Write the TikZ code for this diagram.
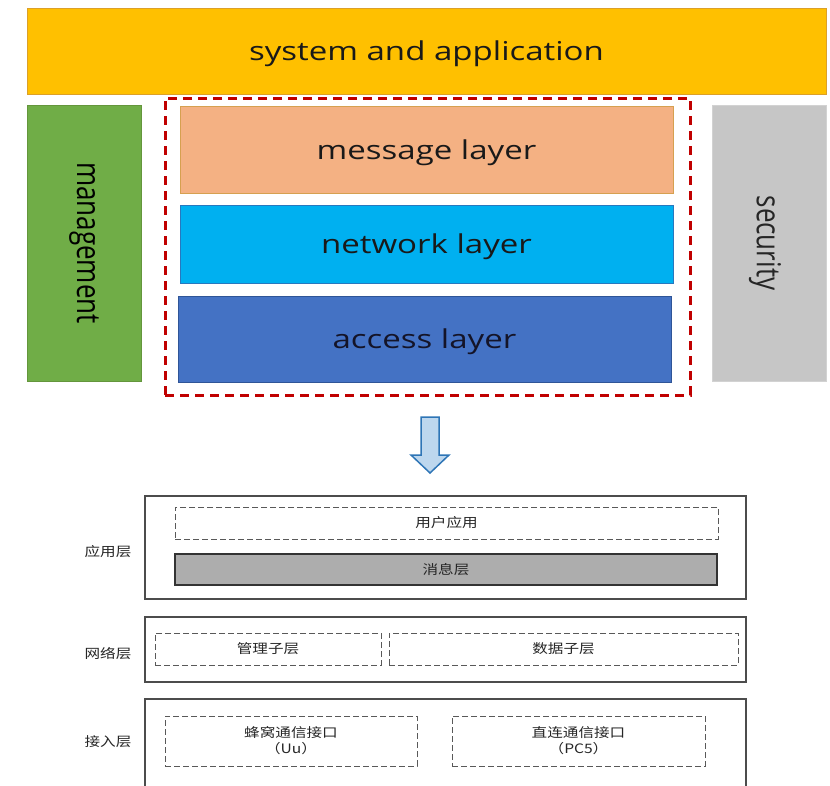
\documentclass[tikz,border=0pt]{standalone}
\usepackage{fontspec}
\usepackage{graphicx}
\setmainfont{Open Sans}
\newfontfamily\enwide[FakeStretch=1.27]{Open Sans}
\newfontfamily\cjk[FakeStretch=1.2]{Noto Sans CJK SC}
\definecolor{cYel}{RGB}{255,192,0}
\definecolor{cYelB}{RGB}{220,160,40}
\definecolor{cGrn}{RGB}{112,173,71}
\definecolor{cGrnB}{RGB}{100,150,60}
\definecolor{cGry}{RGB}{198,198,198}
\definecolor{cGryB}{RGB}{210,210,210}
\definecolor{cRed}{RGB}{192,0,0}
\definecolor{cMsg}{RGB}{244,177,131}
\definecolor{cMsgB}{RGB}{214,160,80}
\definecolor{cNet}{RGB}{0,176,240}
\definecolor{cNetB}{RGB}{40,120,190}
\definecolor{cAcc}{RGB}{68,114,196}
\definecolor{cAccB}{RGB}{47,85,151}
\definecolor{cAccT}{RGB}{20,20,40}
\definecolor{cArB}{RGB}{46,117,182}
\definecolor{cArF}{RGB}{189,215,238}
\begin{document}
\begin{tikzpicture}[x=1pt,y=-1pt,
  colbox/.style={draw=#1,line width=1pt,inner sep=0pt,text=black!90},
  entxt/.style={font=\enwide\fontsize{26}{30}\selectfont, text height=25.6pt, text depth=6pt},
  vtxt/.style={font=\fontsize{26}{30}\selectfont, rotate=-90},
  frame/.style={draw=black!70,line width=1.2pt,inner sep=0pt},
  dbox/.style={draw=black!65,line width=1pt,dash pattern=on 6pt off 3pt,inner sep=0pt,align=center,text=black!85,font=\cjk\fontsize{13}{16}\selectfont},
  side/.style={text=black!85,font=\cjk\fontsize{13}{16}\selectfont}]
\useasboundingbox (0,0) rectangle (830,785);
\clip (0,0) rectangle (830,785);
% top part
\node[colbox=cYelB, fill=cYel, minimum width=799pt, minimum height=86pt, entxt] (sys) at (426.5,51) {system and application};
\node[colbox=cGrnB, fill=cGrn, minimum width=114pt, minimum height=276pt] (mgmt) at (84,243) {};
\node[vtxt] (mgmtt) at (mgmt.center) {\scalebox{1}[1.27]{management}};
\node[colbox=cGryB, fill=cGry, minimum width=114pt, minimum height=276pt] (sec) at (769,243) {};
\node[vtxt, text=black!85] (sect) at (765,243) {\scalebox{1}[1.27]{security}};
\node[draw=cRed, line width=3pt, dash pattern=on 9pt off 6pt, minimum width=525pt, minimum height=297pt, inner sep=0pt] (grp) at (427.5,246.5) {};
\node[colbox=cMsgB, fill=cMsg, minimum width=493pt, minimum height=87pt, entxt] (msg) at (426.5,149.5) {message layer};
\node[colbox=cNetB, fill=cNet, minimum width=493pt, minimum height=78pt, entxt] (net) at (426.5,244) {network layer};
\node[colbox=cAccB, fill=cAcc, minimum width=493pt, minimum height=86pt, entxt, text=cAccT] (acc) at (424.5,339) {access layer};
% arrow
\draw[draw=cArB, fill=cArF, line width=1.5pt, line join=miter]
  (421,417) -- (439,417) -- (439,455) -- (449,455) -- (430,473) -- (411,455) -- (421,455) -- cycle;
% bottom part
\node[frame, minimum width=601pt, minimum height=103pt] (b1) at (445.5,547.5) {};
\node[dbox, minimum width=543pt, minimum height=32pt] (user) at (446.5,523) {用户应用};
\node[dbox, solid, draw=black!80, fill=black!32, line width=1.2pt, minimum width=542pt, minimum height=31pt, text=black!85] (msgc) at (446,569.5) {消息层};
\node[side] (l1) at (108,552) {应用层};
\node[frame, minimum width=601pt, minimum height=65pt] (b2) at (445.5,649.5) {};
\node[dbox, minimum width=226pt, minimum height=32pt] (mgsub) at (268,649) {管理子层};
\node[dbox, minimum width=349pt, minimum height=32pt] (dsub) at (563.5,649) {数据子层};
\node[side] (l2) at (108,654) {网络层};
\node[frame, minimum width=601pt, minimum height=110pt] (b3) at (445.5,754) {};
\node[dbox, minimum width=252pt, minimum height=50pt] (uu) at (291,741) {蜂窝通信接口\\（Uu）};
\node[dbox, minimum width=253pt, minimum height=50pt] (pc5) at (578.5,741) {直连通信接口\\（PC5）};
\node[side] (l3) at (108,742) {接入层};
\end{tikzpicture}
\end{document}
